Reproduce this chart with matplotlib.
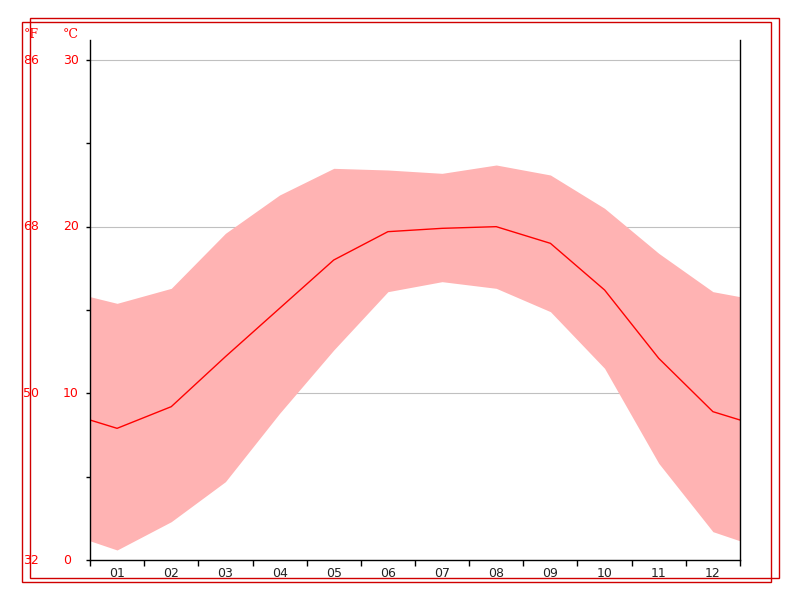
import matplotlib
matplotlib.use("Agg")
import matplotlib.pyplot as plt
from matplotlib.patches import Rectangle

# monthly climate data (deg C)
months = ["01", "02", "03", "04", "05", "06", "07", "08", "09", "10", "11", "12"]
temp_mean = [7.9, 9.2, 12.2, 15.1, 18.0, 19.7, 19.9, 20.0, 19.0, 16.2, 12.1, 8.9]
temp_high = [15.4, 16.3, 19.6, 21.9, 23.5, 23.4, 23.2, 23.7, 23.1, 21.1, 18.4, 16.1]
temp_low = [0.6, 2.3, 4.7, 8.8, 12.6, 16.1, 16.7, 16.3, 14.9, 11.5, 5.8, 1.7]
# values at the left/right edges of the plot (year wrap)
edge_mean = 8.4
edge_high = 15.8
edge_low = 1.15

c_ticks = [0, 10, 20, 30]
f_labels = ["32", "50", "68", "86"]

fig = plt.figure(figsize=(8, 6), dpi=100)
ax = fig.add_axes([90/800, 40/600, 650/800, 520/600])

x = [0.5] + list(range(1, 13)) + [12.5]
mean = [edge_mean] + temp_mean + [edge_mean]
high = [edge_high] + temp_high + [edge_high]
low = [edge_low] + temp_low + [edge_low]

ax.fill_between(x, low, high, color="#ffb3b3", linewidth=0)
ax.plot(x, mean, color="#ff0000", linewidth=1)

ax.set_xlim(0.5, 12.5)
ax.set_ylim(0, 31.2)

for v in [10, 20, 30]:
    ax.axhline(v, color="#c0c0c0", linewidth=0.8, zorder=0)

ax.spines["top"].set_visible(False)
for s in ["left", "right", "bottom"]:
    ax.spines[s].set_color("black")
    ax.spines[s].set_linewidth(1)

# month boundaries as ticks, labels at month centres
ax.set_xticks([i + 0.5 for i in range(0, 13)])
ax.set_xticklabels([])
ax.set_xticks(range(1, 13), minor=True)
ax.set_xticklabels(months, minor=True)
ax.tick_params(axis="x", which="major", direction="out", length=4, width=1)
ax.tick_params(axis="x", which="minor", length=0, pad=5, labelsize=9, labelcolor="#222222")

ax.set_yticks(c_ticks)
ax.set_yticklabels([])
ax.set_yticks([5, 15, 25], minor=True)
ax.tick_params(axis="y", which="both", direction="out", length=3, width=1)

# deg C and deg F labels on the left
for c, f in zip(c_ticks, f_labels):
    yf = 1 - (560 - c * 500 / 30) / 600
    fig.text(63/800, yf, str(c), color="red", fontsize=9, va="center", ha="left")
    fig.text(23/800, yf, f, color="red", fontsize=9, va="center", ha="left")
fig.text(24/800, 1 - 35/600, "°F", color="red", fontsize=9, va="center", ha="left",
         family="DejaVu Serif")
fig.text(63/800, 1 - 35/600, "°C", color="red", fontsize=9, va="center", ha="left",
         family="DejaVu Serif")

# double red frame
fig.patches.append(Rectangle((22/800, 1 - 582/600), 749/800, 560/600, transform=fig.transFigure,
                             fill=False, edgecolor="#d00000", linewidth=1))
fig.patches.append(Rectangle((30/800, 1 - 578/600), 749/800, 560/600, transform=fig.transFigure,
                             fill=False, edgecolor="#d00000", linewidth=1))

fig.savefig("out.png", dpi=100)
